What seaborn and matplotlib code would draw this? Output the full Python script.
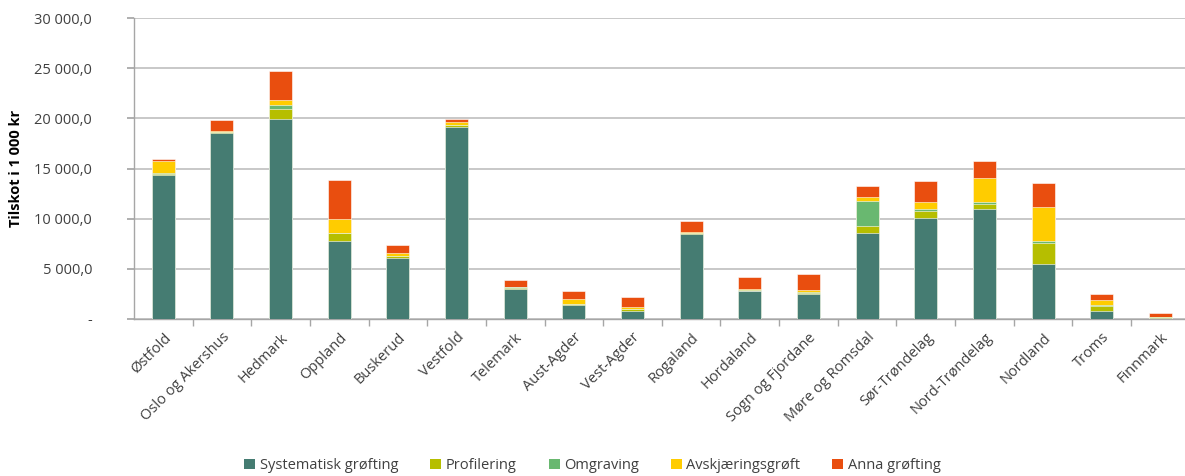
import matplotlib
matplotlib.use("Agg")
import matplotlib.pyplot as plt
import matplotlib.ticker as mticker
from matplotlib.patches import Patch
import numpy as np
import pandas as pd
import seaborn as sns

fylker = ["Østfold", "Oslo og Akershus", "Hedmark", "Oppland", "Buskerud", "Vestfold",
          "Telemark", "Aust-Agder", "Vest-Agder", "Rogaland", "Hordaland",
          "Sogn og Fjordane", "Møre og Romsdal", "Sør-Trøndelag", "Nord-Trøndelag",
          "Nordland", "Troms", "Finnmark"]

systematisk = [14400, 18550, 19930, 7730, 6070, 19170, 3030, 1390, 830, 8470, 2750,
               2520, 8540, 10020, 10990, 5480, 800, 100]
profilering = [60, 60, 970, 830, 170, 170, 90, 90, 120, 80, 60, 80, 700, 700, 430, 2090, 530, 90]
omgraving = [110, 20, 430, 10, 10, 10, 30, 40, 50, 40, 40, 50, 2480, 200, 200, 230, 20, 10]
avskjaering = [1130, 100, 500, 1400, 370, 270, 60, 460, 230, 100, 130, 200, 430, 730, 2460, 3350, 500, 40]
anna = [270, 1060, 2870, 3930, 800, 330, 700, 800, 960, 1060, 1190, 1650, 1120, 2090, 1660, 2360, 630, 330]

serier = ["Systematisk grøfting", "Profilering", "Omgraving", "Avskjæringsgrøft", "Anna grøfting"]
farger = ["#457C72", "#B6BE00", "#69B870", "#FFCC00", "#E94E0F"]

df = pd.DataFrame({
    "fylke": fylker,
    serier[0]: systematisk,
    serier[1]: profilering,
    serier[2]: omgraving,
    serier[3]: avskjaering,
    serier[4]: anna,
})

sns.set_theme(style="white")
plt.rcParams["font.family"] = ["Open Sans", "DejaVu Sans"]

fig = plt.figure(figsize=(11.85, 4.76), dpi=100)
ax = fig.add_axes([0.113, 0.330, 0.891, 0.632])

# Stacked bars: draw cumulative totals from the top layer down
cum = df[serier].cumsum(axis=1)
for serie, farge in reversed(list(zip(serier, farger))):
    sns.barplot(x=df["fylke"], y=cum[serie], color=farge, width=0.39,
                edgecolor="#FFFFFF", linewidth=0.4, saturation=1, ax=ax, zorder=3)

ax.set_ylim(0, 30000)
ax.set_xlim(-0.5, len(fylker) - 0.5)
ax.yaxis.set_major_locator(mticker.MultipleLocator(5000))


def nok(v, pos):
    if v == 0:
        return "-"
    return f"{v:,.1f}".replace(",", " ").replace(".", ",")


ax.yaxis.set_major_formatter(mticker.FuncFormatter(nok))
ax.grid(axis="y", color="#BFBFBF", linewidth=1.2, zorder=0)
ax.set_axisbelow(True)

for s in ["top", "right"]:
    ax.spines[s].set_visible(False)
for s in ["left", "bottom"]:
    ax.spines[s].set_color("#A6A6A6")
    ax.spines[s].set_linewidth(1.0)

ax.tick_params(axis="y", which="major", length=5, color="#A6A6A6", left=True,
               labelsize=10.5, labelcolor="#404040", pad=25)
ax.set_xticks(range(len(fylker)))
ax.set_xticklabels(fylker, rotation=45, ha="right", rotation_mode="anchor",
                   fontsize=10.5, color="#404040")
ax.tick_params(axis="x", which="major", length=0, pad=8)
ax.set_xticks(np.arange(0.5, len(fylker) - 0.5, 1), minor=True)
ax.tick_params(axis="x", which="minor", length=5, color="#A6A6A6", bottom=True)

ax.set_xlabel("")
ax.set_ylabel("Tilskot i 1 000 kr", fontsize=10.5, fontweight="bold", color="black", labelpad=8)

handles = [Patch(facecolor=f, edgecolor="none", label=s) for s, f in zip(serier, farger)]
fig.legend(handles=handles, loc="center", bbox_to_anchor=(0.5, 0.022), ncol=5, frameon=False,
           fontsize=10.5, handlelength=0.75, handleheight=0.75, handletextpad=0.3,
           columnspacing=2.2, labelcolor="#404040")

fig.savefig("out.png", dpi=100)
